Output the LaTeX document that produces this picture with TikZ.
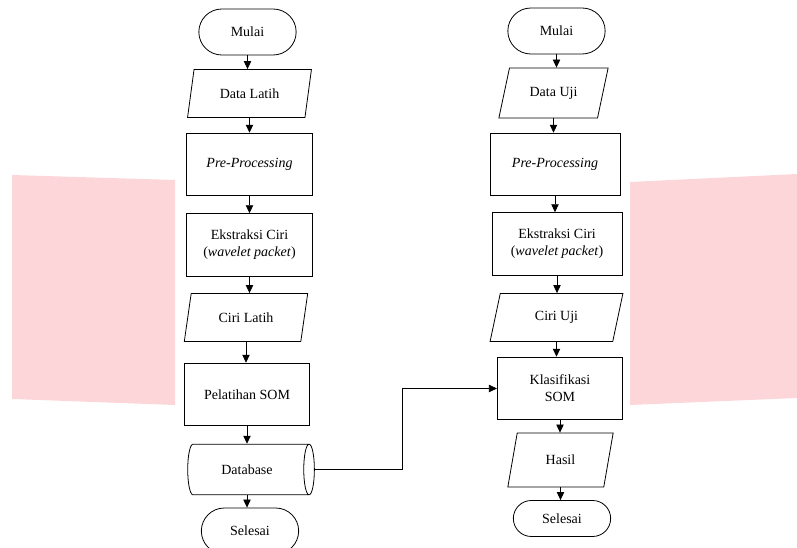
\documentclass[tikz,border=0pt]{standalone}
\usepackage{fontspec}
\setmainfont{Liberation Serif}
\usetikzlibrary{arrows.meta,shapes.geometric,shapes.misc}

\definecolor{markpink}{RGB}{253,214,218}

\tikzset{
  terminal/.style={draw, rounded rectangle, minimum width=77pt, minimum height=34.5pt, inner sep=2pt},
  io/.style={draw, trapezium, trapezium left angle=76, trapezium right angle=104,
    trapezium stretches=true, minimum width=93pt, minimum height=36pt, inner sep=2pt},
  process/.style={draw, rectangle, minimum width=94pt, minimum height=47pt, align=center, inner sep=2pt},
  store/.style={draw, cylinder, shape aspect=0.7, minimum width=38pt, minimum height=95pt, inner sep=2pt},
  flow/.style={-{Triangle[length=6pt,width=5.5pt]}, line width=0.6pt},
}

\begin{document}
\begin{tikzpicture}[x=0.75pt,y=-0.75pt,line width=0.6pt,font=\rmfamily\fontsize{10.5pt}{12.6pt}\selectfont]

	\useasboundingbox (0,0) rectangle (797,548);
	\clip (0,0) rectangle (797,548);

	% Pink marks behind
	\fill[markpink] (12,175) -- (175,180) -- (175,405) -- (12,399) -- cycle;
	\fill[markpink] (630,182) -- (797,174) -- (797,398) -- (630,405) -- cycle;

	% Training column
	\node[terminal] (mulaiA) at (247.5,32) {Mulai};
	\node[io] (dataLatih) at (249.5,93.5) {Data Latih};
	\node[process] (preA) at (249.5,164.5) {\textit{Pre-Processing}};
	\node[process] (ekstrA) at (249.5,245) {Ekstraksi Ciri\\(\textit{wavelet packet})};
	\node[io] (ciriLatih) at (246,317.5) {Ciri Latih};
	\node[process] (pelatihan) at (247,394.5) {Pelatihan SOM};
	\node[store] (database) at (247,469.5) {Database};
	\node[terminal] (selesaiA) at (250,531) {Selesai};

	% Testing column
	\node[terminal] (mulaiB) at (556.5,31) {Mulai};
	\node[io, trapezium left angle=70, trapezium right angle=110, minimum width=82pt, minimum height=37.5pt] (dataUji) at (553.5,93) {Data Uji};
	\node[process, minimum width=97.5pt] (preB) at (555,164.5) {\textit{Pre-Processing}};
	\node[process, minimum width=97.5pt] (ekstrB) at (557,244) {Ekstraksi Ciri\\(\textit{wavelet packet})};
	\node[io, minimum width=100pt] (ciriUji) at (556.5,317.5) {Ciri Uji};
	\node[process] (klasifikasi) at (560,388.5) {Klasifikasi\\SOM};
	\node[io, minimum width=79pt, minimum height=40.5pt] (hasil) at (560.5,460) {Hasil};
	\node[terminal, minimum height=27pt] (selesaiB) at (562,518.5) {Selesai};

	% Arrows down each column
	\foreach \a/\b in {mulaiA/dataLatih, dataLatih/preA, preA/ekstrA, ekstrA/ciriLatih,
		ciriLatih/pelatihan, pelatihan/database, database/selesaiA,
		mulaiB/dataUji, dataUji/preB, preB/ekstrB, ekstrB/ciriUji,
		ciriUji/klasifikasi, klasifikasi/hasil, hasil/selesaiB}
		\draw[flow] (\a.south) -- (\a.south |- \b.north);

	% Database to classification
	\draw[flow] (database.east) -- ++(88,0) |- (klasifikasi.west);

\end{tikzpicture}
\end{document}
